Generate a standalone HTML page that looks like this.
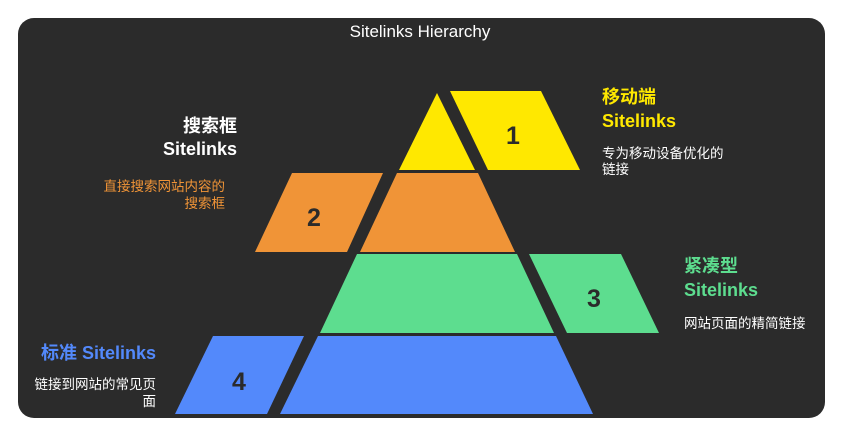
<!DOCTYPE html>
<html><head><meta charset="utf-8"><style>
html,body{margin:0;padding:0;background:#fff;}
svg text{font-family:"Liberation Sans","Noto Sans CJK SC",sans-serif;}
</style></head><body>
<svg width="843" height="437" viewBox="0 0 843 437" xmlns="http://www.w3.org/2000/svg">
<rect x="18" y="18" width="807" height="400" rx="16" fill="#2b2b2b"/>
<text x="420" y="37" text-anchor="middle" font-size="17" fill="#fff">Sitelinks Hierarchy</text>
<polygon points="437,93 475,170 399,170" fill="#ffe800"/>
<polygon points="450,91 541,91 580,170 488,170" fill="#ffe800"/>
<polygon points="397,173 478,173 515,252 360,252" fill="#f09437"/>
<polygon points="292,173 383,173 347,252 255,252" fill="#f09437"/>
<polygon points="357,254 517,254 554,333 320,333" fill="#5ddd8f"/>
<polygon points="529,254 621,254 659,333 567,333" fill="#5ddd8f"/>
<polygon points="318,336 556,336 593,414 280,414" fill="#5389fb"/>
<polygon points="213,336 304,336 267,414 175,414" fill="#5389fb"/>
<g font-size="25" font-weight="bold" fill="#2b2b2b" text-anchor="middle">
<text x="513" y="144">1</text>
<text x="314" y="226">2</text>
<text x="594" y="307">3</text>
<text x="239" y="390">4</text>
</g>
<g font-weight="bold" font-size="18">
<text x="602" y="103" fill="#ffe800">移动端</text>
<text x="602" y="127" fill="#ffe800">Sitelinks</text>
<text x="237" y="132" fill="#fff" text-anchor="end">搜索框</text>
<text x="237" y="155" fill="#fff" text-anchor="end">Sitelinks</text>
<text x="684" y="272" fill="#5ddd8f">紧凑型</text>
<text x="684" y="296" fill="#5ddd8f">Sitelinks</text>
<text x="156" y="359" fill="#5389fb" text-anchor="end">标准 Sitelinks</text>
</g>
<g font-size="13.5">
<text x="602" y="158" fill="#fff">专为移动设备优化的</text>
<text x="602" y="174" fill="#fff">链接</text>
<text x="225" y="191" fill="#f09437" text-anchor="end">直接搜索网站内容的</text>
<text x="225" y="208" fill="#f09437" text-anchor="end">搜索框</text>
<text x="684" y="328" fill="#fff">网站页面的精简链接</text>
<text x="156" y="389" fill="#fff" text-anchor="end">链接到网站的常见页</text>
<text x="156" y="406" fill="#fff" text-anchor="end">面</text>
</g>
</svg>
</body></html>
